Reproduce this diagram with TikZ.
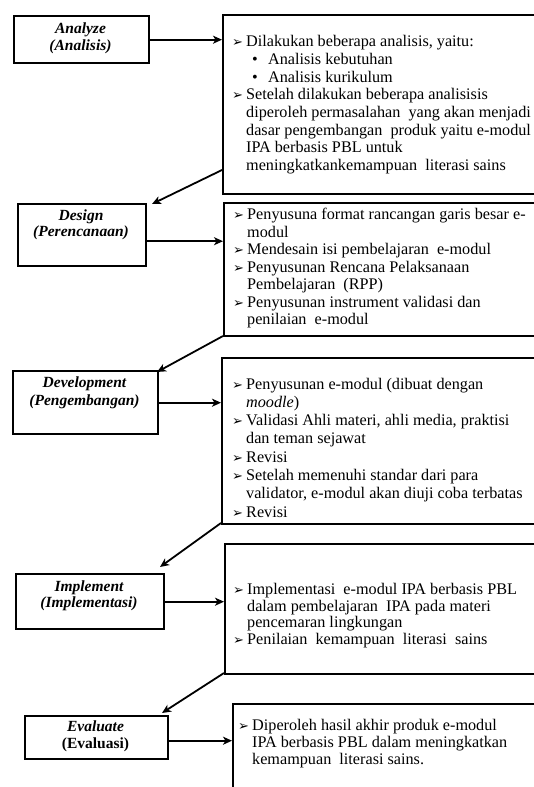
\documentclass[tikz,border=0pt]{standalone}
\usepackage{fontspec}
\setmainfont{Liberation Serif}
\newfontfamily\symfont{DejaVu Sans}
\usetikzlibrary{arrows.meta}
\newcommand\blt{\strut\makebox[14pt][l]{\raisebox{0pt}{\symfont\fontsize{13}{13}\selectfont ➢}}}
\newcommand\cnt{\strut\hspace*{14pt}}
\newcommand\sblt{\strut\hspace*{20pt}\makebox[16pt][l]{\textbullet}}
\begin{document}
\begin{tikzpicture}[x=1pt,y=-1pt,
  lbox/.style={draw, line width=2.4pt, inner sep=0pt, anchor=north west},
  rbox/.style={draw, line width=1.8pt, inner sep=0pt, anchor=north west},
  ttl/.style={align=center, anchor=north, inner sep=0pt},
  body/.style={align=left, anchor=north west, inner sep=0pt},
  arr/.style={line width=1.8pt, -{Stealth[length=9pt,width=8pt,inset=2.5pt]}}]
\useasboundingbox (0,0) rectangle (534,787);
\fill[white] (0,0) rectangle (534,787);
\begin{scope}
\clip (0,0) rectangle (534,787);
% left boxes
\node[lbox, minimum width=135pt, minimum height=47pt] (a1) at (13,15) {};
\node[lbox, minimum width=128pt, minimum height=62pt] (a2) at (17,203) {};
\node[lbox, minimum width=145pt, minimum height=63pt] (a3) at (12,370) {};
\node[lbox, minimum width=148pt, minimum height=55pt] (a4) at (15,573) {};
\node[lbox, minimum width=143pt, minimum height=43pt] (a5) at (24,715) {};
% right boxes
\node[rbox, minimum width=340pt, minimum height=179pt] (r1) at (222,14) {};
\node[rbox, minimum width=340pt, minimum height=133pt] (r2) at (223,202) {};
\node[rbox, minimum width=340pt, minimum height=166pt] (r3) at (221,357) {};
\node[rbox, minimum width=340pt, minimum height=130pt] (r4) at (224,543) {};
\node[rbox, minimum width=340pt, minimum height=120pt] (r5) at (232,703) {};
% titles
\node[ttl, font=\fontsize{15.5}{17}\selectfont\bfseries\itshape] (t1) at (80.5,21.5) {\strut Analyze\\\strut (Analisis)};
\node[ttl, font=\fontsize{15.5}{16}\selectfont\bfseries\itshape] (t2) at (81,209.2) {\strut Design\\\strut (Perencanaan)};
\node[ttl, font=\fontsize{15.5}{17.5}\selectfont\bfseries\itshape] (t3) at (84.5,375.1) {\strut Development\\\strut (Pengembangan)};
\node[ttl, font=\fontsize{15.5}{15.5}\selectfont\bfseries\itshape] (t4) at (89,580.5) {\strut Implement\\\strut (Implementasi)};
\node[ttl, font=\fontsize{15.5}{15}\selectfont\bfseries] (t5) at (95.5,720.9) {\strut\textit{Evaluate}\\\strut (Evaluasi)};
% body texts
\node[body, font=\fontsize{16.2}{17.7}\selectfont] (b1) at (232,34.1) {%
\blt Dilakukan beberapa analisis, yaitu:\\
\sblt Analisis kebutuhan\\
\sblt Analisis kurikulum\\
\blt Setelah dilakukan beberapa analisisis\\
\cnt diperoleh permasalahan\ \ yang akan menjadi\\
\cnt dasar pengembangan\ \ produk yaitu e-modul\\
\cnt IPA berbasis PBL untuk\\
\cnt meningkatkankemampuan\ \ literasi\ sains};
\node[body, font=\fontsize{16.2}{17.5}\selectfont] (b2) at (233,207.2) {%
\blt Penyusuna format rancangan garis besar e-\\
\cnt modul\\
\blt Mendesain isi pembelajaran\ \ e-modul\\
\blt Penyusunan Rencana Pelaksanaan\\
\cnt Pembelajaran\ \ (RPP)\\
\blt Penyusunan instrument validasi dan\\
\cnt penilaian\ \ e-modul};
\node[body, font=\fontsize{16.2}{18.3}\selectfont] (b3) at (232,376) {%
\blt Penyusunan e-modul (dibuat dengan\\
\cnt \textit{moodle})\\
\blt Validasi Ahli materi, ahli media, praktisi\\
\cnt dan teman sejawat\\
\blt Revisi\\
\blt Setelah memenuhi standar dari para\\
\cnt validator, e-modul akan diuji coba terbatas\\
\blt Revisi};
\node[body, font=\fontsize{16.2}{16.5}\selectfont] (b4) at (233,583) {%
\blt Implementasi\ \ e-modul IPA berbasis PBL\\
\cnt dalam pembelajaran\ \ IPA pada materi\\
\cnt pencemaran lingkungan\\
\blt Penilaian\ \ kemampuan\ \ literasi\ \ sains};
\node[body, font=\fontsize{16.2}{16}\selectfont] (b5) at (238,719) {%
\blt Diperoleh hasil akhir produk e-modul\\
\cnt IPA berbasis PBL dalam meningkatkan\\
\cnt kemampuan\ \ literasi\ sains.};
% connector end points
\coordinate (s1) at (222,170);
\coordinate (e1) at (152,204);
\coordinate (s2) at (223,336);
\coordinate (e2) at (157,372);
\coordinate (s3) at (221,523);
\coordinate (e3) at (160,567);
\coordinate (s4) at (224,673);
\coordinate (e4) at (162,713);
% horizontal arrows
\draw[arr] (a1.east) -- (a1.east -| r1.west);
\draw[arr] (a2.east) ++(0,6) coordinate (h2) -- (h2 -| r2.west);
\draw[arr] (a3.east) -- (a3.east -| r3.west);
\draw[arr] (a4.east) -- (a4.east -| r4.west);
\draw[arr] (a5.east) ++(0,3) coordinate (h5) -- (h5 -| r5.west);
% diagonal arrows
\draw[arr] (s1) -- (e1);
\draw[arr] (s2) -- (e2);
\draw[arr] (s3) -- (e3);
\draw[arr] (s4) -- (e4);
\end{scope}
\end{tikzpicture}
\end{document}
